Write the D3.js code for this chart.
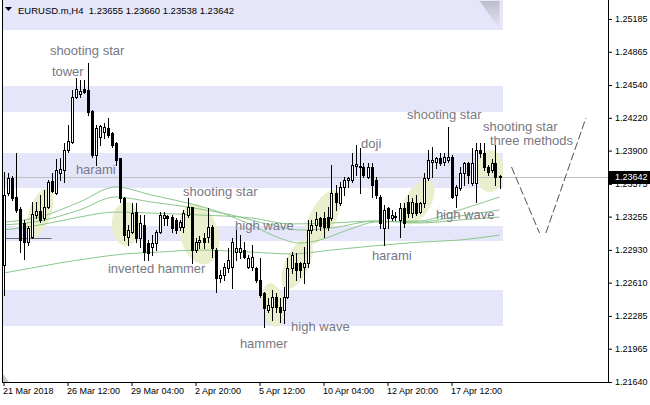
<!DOCTYPE html>
<html><head><meta charset="utf-8">
<script src="https://cdn.jsdelivr.net/npm/d3@7"></script>
<style>body{margin:0;background:#fff}svg{display:block;font-family:"Liberation Sans",Arial,sans-serif}</style>
</head><body><svg id="c" width="650" height="405"></svg>
<script>
// ---- data (EURUSD.m H4) ----
const open=[1.22782,1.23486,1.23632,1.23447,1.23330,1.23193,1.23006,1.23056,1.23271,1.23310,
1.23242,1.23349,1.23603,1.23486,1.23681,1.23710,1.23906,1.23983,1.24424,1.24453,
1.24501,1.24492,1.24286,1.23857,1.24032,1.24081,1.24121,1.24072,1.23974,1.23828,
1.23437,1.23056,1.23104,1.23300,1.23046,1.23173,1.22997,1.22958,1.22997,1.23104,
1.23242,1.23261,1.23251,1.23222,1.23154,1.23154,1.23271,1.23349,1.22929,1.23006,
1.23046,1.23056,1.23154,1.22929,1.22655,1.22684,1.22753,1.22762,1.22909,1.22909,
1.22929,1.22762,1.22762,1.22753,1.22636,1.22509,1.22343,1.22372,1.22470,1.22372,
1.22343,1.22470,1.22753,1.22802,1.22802,1.22762,1.22802,1.23124,1.23173,1.23242,
1.23242,1.23251,1.23242,1.23486,1.23388,1.23545,1.23613,1.23613,1.23749,1.23740,
1.23740,1.23642,1.23740,1.23613,1.23447,1.23144,1.23339,1.23242,1.23251,1.23222,
1.23339,1.23397,1.23290,1.23388,1.23300,1.23388,1.23632,1.23789,1.23789,1.23828,
1.23789,1.23808,1.23838,1.23466,1.23535,1.23681,1.23779,1.23584,1.23584,1.23906,
1.23877,1.23740,1.23710,1.23779,1.23655];
const high=[1.23690,1.23681,1.23651,1.23877,1.23349,1.23222,1.23163,1.23397,1.23397,1.23466,
1.23515,1.23613,1.23681,1.23818,1.23828,1.23974,1.24150,1.24492,1.24609,1.24589,
1.24589,1.24756,1.24296,1.24150,1.24150,1.24170,1.24218,1.24081,1.23984,1.23828,
1.23447,1.23173,1.23388,1.23388,1.23271,1.23271,1.23026,1.23075,1.23124,1.23300,
1.23300,1.23271,1.23271,1.23242,1.23222,1.23320,1.23437,1.23349,1.23046,1.23065,
1.23095,1.23339,1.23173,1.22948,1.22733,1.22802,1.22948,1.23046,1.23124,1.23075,
1.23006,1.22880,1.22977,1.22762,1.22850,1.22518,1.22460,1.22538,1.22509,1.22460,
1.22568,1.22850,1.22909,1.22900,1.22811,1.22958,1.23222,1.23222,1.23300,1.23251,
1.23300,1.23349,1.23759,1.23564,1.23593,1.23642,1.23642,1.23877,1.23954,1.23925,
1.23779,1.23779,1.23779,1.23642,1.23466,1.23368,1.23349,1.23320,1.23300,1.23388,
1.23388,1.23466,1.23437,1.23466,1.23397,1.23681,1.23906,1.23935,1.23838,1.23877,
1.23877,1.24131,1.23857,1.23564,1.23740,1.23789,1.23789,1.23925,1.23974,1.23974,
1.23974,1.23759,1.23818,1.23954,1.23660];
const low=[1.22489,1.23466,1.23417,1.23300,1.22909,1.22841,1.22977,1.23046,1.23242,1.23202,
1.23222,1.23339,1.23495,1.23476,1.23613,1.23593,1.23886,1.23974,1.24414,1.24424,
1.24463,1.24247,1.23838,1.23759,1.23954,1.24023,1.24033,1.23935,1.23759,1.23397,
1.23026,1.22977,1.23095,1.23006,1.22958,1.22831,1.22831,1.22880,1.22929,1.23095,
1.23173,1.23173,1.23104,1.23095,1.23124,1.23104,1.23251,1.22802,1.22909,1.22948,
1.22948,1.23006,1.22860,1.22518,1.22616,1.22636,1.22713,1.22558,1.22831,1.22850,
1.22850,1.22753,1.22733,1.22616,1.22470,1.22177,1.22323,1.22245,1.22323,1.22225,
1.22216,1.22460,1.22704,1.22636,1.22665,1.22606,1.22762,1.23095,1.23124,1.23124,
1.23056,1.23124,1.23222,1.23320,1.23368,1.23466,1.23545,1.23593,1.23661,1.23486,
1.23642,1.23632,1.23447,1.23437,1.23144,1.22977,1.23144,1.23222,1.23222,1.23056,
1.23154,1.23251,1.23251,1.23271,1.23290,1.23349,1.23613,1.23642,1.23730,1.23759,
1.23759,1.23789,1.23437,1.23349,1.23515,1.23564,1.23584,1.23564,1.23397,1.23838,
1.23710,1.23661,1.23690,1.23564,1.23538];
const close=[1.23466,1.23632,1.23437,1.23320,1.23026,1.23006,1.23144,1.23281,1.23310,1.23222,
1.23349,1.23593,1.23505,1.23710,1.23720,1.23906,1.23993,1.24424,1.24501,1.24482,
1.24472,1.24276,1.23857,1.24121,1.24140,1.24131,1.24052,1.23954,1.23808,1.23437,
1.23075,1.23124,1.23290,1.23046,1.23193,1.22909,1.22900,1.22997,1.23104,1.23271,
1.23271,1.23242,1.23144,1.23124,1.23202,1.23290,1.23349,1.22929,1.23006,1.23026,
1.23006,1.23154,1.22948,1.22655,1.22684,1.22762,1.22831,1.23006,1.22948,1.22948,
1.22860,1.22850,1.22860,1.22636,1.22489,1.22362,1.22391,1.22470,1.22372,1.22323,
1.22470,1.22753,1.22880,1.22733,1.22733,1.22802,1.23124,1.23173,1.23232,1.23163,
1.23154,1.23154,1.23486,1.23397,1.23545,1.23613,1.23632,1.23759,1.23769,1.23749,
1.23661,1.23740,1.23564,1.23466,1.23193,1.23320,1.23242,1.23271,1.23261,1.23339,
1.23193,1.23290,1.23397,1.23290,1.23388,1.23632,1.23808,1.23808,1.23828,1.23779,
1.23838,1.23838,1.23447,1.23545,1.23681,1.23779,1.23661,1.23779,1.23906,1.23877,
1.23740,1.23690,1.23779,1.23642,1.23642];

// moving averages: [bar, price]
const maSlowest=[[0,1.22704],[7,1.22753],[14,1.22802],[22,1.22850],[30,1.22890],[39,1.22909],[49,1.22929],[62,1.22909],[72,1.22890],[82,1.22929],[92,1.22967],[104,1.23006],[114,1.23026],[124,1.23075]];
const maFast=[[0,1.23202],[9,1.23251],[19,1.23397],[28,1.23545],[37,1.23466],[46,1.23388],[54,1.23300],[62,1.23173],[69,1.23046],[74,1.22997],[79,1.23026],[86,1.23124],[93,1.23202],[104,1.23212],[114,1.23320],[124,1.23447]];
const maMid=[[0,1.23173],[9,1.23212],[19,1.23320],[28,1.23447],[37,1.23397],[46,1.23349],[57,1.23271],[67,1.23173],[74,1.23124],[82,1.23144],[93,1.23212],[104,1.23202],[114,1.23261],[124,1.23320]];
const maSlow=[[0,1.23124],[9,1.23173],[19,1.23251],[28,1.23300],[37,1.23290],[49,1.23271],[62,1.23242],[72,1.23183],[82,1.23193],[93,1.23212],[104,1.23193],[114,1.23222],[124,1.23251]];

// horizontal zones [top, bottom]
const zones=[[1.25371,1.25078],[1.24531,1.24277],[1.23876,1.23534],[1.23163,1.23016],[1.22538,1.22186]];
const levelLine=[[0,1.23046],[12,1.23046]];
const bidPrice=1.23642;
const forecastA=[[127,1.23740],[134,1.23095]];
const forecastB=[[135.6,1.23095],[145.6,1.24218]];

// highlights: bar, price, half-width(bars), half-height(price), angle
const highlights=[[9.1,1.23290,2.75,0.00254,20],[30.6,1.23183,3.5,0.00215,0],[48.9,1.23085,4.75,0.00303,-15],
[67.4,1.22391,2.75,0.00215,-10],[73.4,1.22792,3,0.00264,25],[79.9,1.23251,3.25,0.00293,28],
[103.6,1.23397,3.25,0.00244,30],[121.6,1.23700,3.5,0.00205,0]];

const notes=[["shooting star",11.6,1.24834],["tower",12.1,1.24628],["harami",18.1,1.23671],["inverted hammer",26.1,1.22704],
["shooting star",44.9,1.23456],["high wave",57.9,1.23124],["doji",89.4,1.23925],["harami",92.1,1.22831],
["hammer",59.1,1.21971],["high wave",71.9,1.22137],["shooting star",100.9,1.24208],["shooting star",119.9,1.24091],
["three methods",121.6,1.23954],["high wave",108.1,1.23232]];

const yTicks=[1.25185,1.24865,1.24540,1.24220,1.23900,1.23575,1.23255,1.22930,1.22610,1.22285,1.21965,1.21640];
const xTickBars=[0,16,32,48,64,80,96,112];
const xTickLabels=["21 Mar 2018","26 Mar 12:00","29 Mar 04:00","2 Apr 20:00","5 Apr 12:00","10 Apr 04:00","12 Apr 20:00","17 Apr 12:00"];
const title="EURUSD.m,H4  1.23655 1.23660 1.23538 1.23642";
const shiftBar=121.5;

// ---- drawing ----
const svg=d3.select("#c");
const x=d3.scaleLinear().domain([0,150]).range([3.5,603.5]);
const y=d3.scaleLinear().domain([1.21640,1.25185]).range([382,19]);
const X=i=>Math.round(x(i)), Y=v=>Math.round(y(v));

const defs=svg.append("defs");
defs.append("clipPath").attr("id","zc").append("rect").attr("x",3).attr("y",0).attr("width",500).attr("height",382);
defs.append("clipPath").attr("id","pc").append("rect").attr("x",3).attr("y",0).attr("width",605).attr("height",382);
const gr=defs.append("linearGradient").attr("id","sg").attr("x1",0).attr("y1",0).attr("x2",0).attr("y2",1);
gr.append("stop").attr("offset","0").attr("stop-color","#bdbdc8");
gr.append("stop").attr("offset","1").attr("stop-color","#e6e6fa");

const plot=svg.append("g").attr("clip-path","url(#pc)");
const zg=plot.append("g").attr("clip-path","url(#zc)");
zg.selectAll("rect.z").data(zones).join("rect").attr("x",3).attr("width",500)
  .attr("y",d=>Y(d[0])).attr("height",d=>Y(d[1])-Y(d[0])).attr("fill","#e6e6fa");
zg.selectAll("ellipse").data(highlights).join("ellipse")
  .attr("cx",0).attr("cy",0)
  .attr("rx",d=>x(d[2])-x(0)).attr("ry",d=>y(d[1]-d[3])-y(d[1]))
  .attr("transform",d=>`translate(${x(d[0])},${y(d[1])}) rotate(${d[4]})`)
  .attr("fill","#e9efcc");
// chart-shift marker at top
const sx=x(shiftBar);
plot.append("path").attr("d",`M${sx-10},1L${sx+10},1L${sx+10},29Z`).attr("fill","url(#sg)");

// bid line
plot.append("line").attr("x1",3).attr("x2",608).attr("y1",Y(bidPrice)+0.5).attr("y2",Y(bidPrice)+0.5).attr("stroke","#c0c0c0");

const line=d3.line().x(d=>x(d[0])).y(d=>y(d[1])).curve(d3.curveMonotoneX);
[maSlowest,maFast,maMid,maSlow].forEach(m=>plot.append("path").attr("d",line(m)).attr("fill","none").attr("stroke","#8cc68c").attr("stroke-width",1));

plot.append("line").attr("x1",x(levelLine[0][0])-1).attr("x2",x(levelLine[1][0])).attr("y1",Y(levelLine[0][1])+0.5).attr("y2",Y(levelLine[1][1])+0.5).attr("stroke","#6e6e6e");

// candles
const idx=d3.range(open.length);
const cg=plot.append("g");
idx.forEach(i=>{
  const cx=X(i);
  cg.append("line").attr("x1",cx+0.5).attr("x2",cx+0.5).attr("y1",Y(high[i])).attr("y2",Y(low[i])+1).attr("stroke","#000");
  const t=Y(Math.max(open[i],close[i])), b=Y(Math.min(open[i],close[i]));
  const bull=close[i]>=open[i];
  cg.append("rect").attr("x",cx-0.5).attr("y",t+0.5).attr("width",2).attr("height",Math.max(b-t,0))
    .attr("fill",bull?"#fff":"#000").attr("stroke","#000");
});

// forecast
const fl=d3.line().x(d=>x(d[0])).y(d=>y(d[1]));
[forecastA,forecastB].forEach(f=>plot.append("path").attr("d",fl(f)).attr("fill","none").attr("stroke","#505050").attr("stroke-dasharray","8,3"));

// notes
plot.selectAll("text.n").data(notes).join("text").attr("class","n")
  .attr("x",d=>x(d[1])).attr("y",d=>y(d[2])).text(d=>d[0])
  .attr("font-size","13px").attr("fill","#787884");

// borders
svg.append("line").attr("x1",2.5).attr("x2",2.5).attr("y1",0).attr("y2",383).attr("stroke","#000");
svg.append("line").attr("x1",2).attr("x2",609).attr("y1",382.5).attr("y2",382.5).attr("stroke","#000");
svg.append("line").attr("x1",608.5).attr("x2",608.5).attr("y1",0).attr("y2",383).attr("stroke","#000");
svg.append("path").attr("d","M3,374L3,382L9,382Z").attr("fill","#c8c8c8");

// y axis
const ya=svg.append("g").attr("transform","translate(608,0)")
  .call(d3.axisRight(y).tickValues(yTicks).tickSize(4).tickPadding(3).tickFormat(d3.format(".5f")));
ya.select(".domain").remove();
ya.selectAll("text").attr("font-size","9px").attr("font-family","Liberation Sans, Arial, sans-serif").attr("fill","#000");

// x axis
const xa=svg.append("g").attr("transform","translate(0,382)")
  .call(d3.axisBottom(x).tickValues(xTickBars).tickSize(4).tickPadding(2).tickFormat((d,i)=>xTickLabels[i]));
xa.select(".domain").remove();
xa.selectAll("text").attr("text-anchor","start").attr("dx","-1").attr("font-size","9px").attr("font-family","Liberation Sans, Arial, sans-serif").attr("fill","#000");

// bid label
svg.append("rect").attr("x",609).attr("y",Y(bidPrice)-6).attr("width",41).attr("height",13).attr("fill","#000");
svg.append("text").attr("x",615).attr("y",Y(bidPrice)).attr("dy","0.32em").attr("font-size","9px").attr("fill","#fff").text(d3.format(".5f")(bidPrice));

// title
svg.append("path").attr("d","M5,7L12,7L8.5,11Z").attr("fill","#000");
svg.append("text").attr("x",18).attr("y",14).attr("font-size","9.5px").attr("fill","#000").style("white-space","pre").text(title);
</script></body></html>
